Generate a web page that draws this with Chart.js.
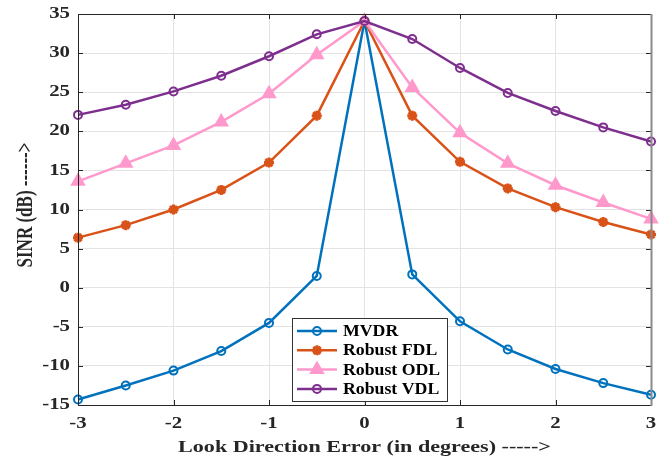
<!DOCTYPE html>
<html>
<head>
<meta charset="utf-8">
<script src="https://cdn.jsdelivr.net/npm/chart.js@4.4.1/dist/chart.umd.min.js"></script>
<style>
  html, body { margin: 0; padding: 0; background: #fff; }
  #wrap { width: 667px; height: 459px; }
</style>
</head>
<body>
<div id="wrap"><canvas id="sinrChart" width="667" height="459"></canvas></div>
<script>
// Look direction error (degrees)
const lookError = [-3, -2.5, -2, -1.5, -1, -0.5, 0, 0.5, 1, 1.5, 2, 2.5, 3];

// SINR values (dB)
const mvdr = [-14.3, -12.5, -10.6, -8.1, -4.5, 1.5, 34.1, 1.7, -4.3, -7.9, -10.4, -12.2, -13.7];
const robustFdl = [6.4, 8.0, 10.0, 12.5, 16.0, 22.0, 34.1, 22.0, 16.1, 12.7, 10.3, 8.4, 6.8];
const robustOdl = [13.6, 15.9, 18.2, 21.2, 24.8, 29.8, 34.1, 25.6, 19.8, 15.9, 13.1, 10.9, 8.8];
const robustVdl = [22.1, 23.4, 25.1, 27.1, 29.6, 32.4, 34.1, 31.8, 28.1, 24.9, 22.6, 20.5, 18.7];

const seriesLabels = ['MVDR', 'Robust FDL', 'Robust ODL', 'Robust VDL'];
const xTicks = [-3, -2, -1, 0, 1, 2, 3];
const yTicks = [-15, -10, -5, 0, 5, 10, 15, 20, 25, 30, 35];
const xTitle = 'Look Direction Error (in degrees) ----->';
const yTitle = 'SINR (dB) ------>';

const FONT = '"Liberation Serif", "Times New Roman", serif';
const STRETCH = 1.3; // the figure's text is wider than normal Times

function wideText(ctx, text, x, y, align, sx) {
    ctx.save();
    ctx.translate(x, y);
    ctx.scale(sx, 1);
    ctx.textAlign = align;
    ctx.fillText(text, 0, 0);
    ctx.restore();
}

// Box, inward ticks, labels and the legend inside the plot
const matlabAxes = {
    id: 'matlabAxes',
    afterDatasetsDraw(chart) {
        const ctx = chart.ctx;
        const a = chart.chartArea;
        const xs = chart.scales.x, ys = chart.scales.y;
        ctx.save();
        // inward ticks
        ctx.strokeStyle = '#262626';
        ctx.lineWidth = 1;
        xTicks.forEach(v => {
            const px = Math.round(xs.getPixelForValue(v)) + 0.5;
            ctx.beginPath();
            ctx.moveTo(px, a.bottom); ctx.lineTo(px, a.bottom - 5);
            ctx.moveTo(px, a.top); ctx.lineTo(px, a.top + 5);
            ctx.stroke();
        });
        yTicks.forEach(v => {
            const py = Math.round(ys.getPixelForValue(v)) + 0.5;
            ctx.beginPath();
            ctx.moveTo(a.left, py); ctx.lineTo(a.left + 5, py);
            ctx.moveTo(a.right, py); ctx.lineTo(a.right - 5, py);
            ctx.stroke();
        });
        // box
        ctx.beginPath();
        ctx.moveTo(a.left + 0.5, a.top + 0.5);
        ctx.lineTo(a.right + 0.5, a.top + 0.5);
        ctx.moveTo(a.left + 0.5, a.top);
        ctx.lineTo(a.left + 0.5, a.bottom + 0.5);
        ctx.lineTo(a.right + 0.5, a.bottom + 0.5);
        ctx.stroke();
        ctx.strokeStyle = '#8a8a8a';
        ctx.lineWidth = 2;
        ctx.beginPath();
        ctx.moveTo(a.right + 0.5, a.top);
        ctx.lineTo(a.right + 0.5, a.bottom + 1);
        ctx.stroke();

        // tick labels
        ctx.fillStyle = '#262626';
        ctx.font = 'bold 16px ' + FONT;
        ctx.textBaseline = 'middle';
        xTicks.forEach(v => {
            wideText(ctx, String(v), xs.getPixelForValue(v), a.bottom + 19, 'center', STRETCH);
        });
        yTicks.forEach(v => {
            wideText(ctx, String(v), a.left - 8, ys.getPixelForValue(v), 'right', STRETCH);
        });

        // axis titles
        ctx.font = 'bold 17px ' + FONT;
        ctx.textBaseline = 'alphabetic';
        wideText(ctx, xTitle, (a.left + a.right) / 2, 452, 'center', STRETCH);
        ctx.save();
        ctx.translate(32, 205);
        ctx.rotate(-Math.PI / 2);
        ctx.scale(1, STRETCH);
        ctx.textAlign = 'center';
        ctx.fillText(yTitle, 0, 0);
        ctx.restore();

        // legend box
        const lx = 292, ly = 318, lw = 155, lh = 83;
        ctx.fillStyle = '#ffffff';
        ctx.fillRect(lx, ly, lw, lh);
        ctx.strokeStyle = '#333333';
        ctx.lineWidth = 1;
        ctx.strokeRect(lx + 0.5, ly + 0.5, lw, lh);
        ctx.font = 'bold 16px ' + FONT;
        ctx.textBaseline = 'middle';
        chart.data.datasets.forEach((ds, i) => {
            const cy = ly + 13 + i * 19.3;
            ctx.strokeStyle = ds.borderColor;
            ctx.lineWidth = 2.5;
            ctx.beginPath();
            ctx.moveTo(lx + 5, cy);
            ctx.lineTo(lx + 45, cy);
            ctx.stroke();
            ctx.fillStyle = ds.pointBackgroundColor;
            ctx.lineWidth = ds.pointBorderWidth;
            Chart.helpers.drawPoint(ctx, {
                pointStyle: ds.pointStyle,
                radius: ds.pointRadius,
                rotation: 0,
                borderWidth: ds.pointBorderWidth
            }, lx + 25, cy);
            ctx.fillStyle = '#000000';
            wideText(ctx, ds.label, lx + 51, cy + 1, 'left', 1.11);
        });
        ctx.restore();
    }
};

function drawSinrChart() {
    const ctx = document.getElementById('sinrChart').getContext('2d');

    const colors = ['#0072BD', '#D95319', '#FF99CC', '#7E2F8E'];
    const styles = [
        { pointStyle: 'circle', radius: 4, bw: 2, fill: 'rgba(255,255,255,0)' },
        { pointStyle: 'star', radius: 5, bw: 3, fill: '#D95319' },
        { pointStyle: 'triangle', radius: 7, bw: 2, fill: '#FF99CC' },
        { pointStyle: 'circle', radius: 4, bw: 2, fill: 'rgba(255,255,255,0)' }
    ];
    const values = [mvdr, robustFdl, robustOdl, robustVdl];

    const datasets = seriesLabels.map((label, i) => ({
        label: label,
        data: values[i].map((y, j) => ({ x: lookError[j], y: y })),
        borderColor: colors[i],
        backgroundColor: styles[i].fill,
        borderWidth: 2.5,
        pointStyle: styles[i].pointStyle,
        pointRadius: styles[i].radius,
        pointBorderWidth: styles[i].bw,
        pointBackgroundColor: styles[i].fill,
        pointBorderColor: colors[i],
        tension: 0,
        clip: false,
        order: 4 - i
    }));

    new Chart(ctx, {
        type: 'line',
        data: { datasets },
        plugins: [matlabAxes],
        options: {
            responsive: false,
            animation: false,
            layout: { padding: { top: 14, right: 16, left: 0, bottom: 0 } },
            scales: {
                x: {
                    type: 'linear',
                    min: -3,
                    max: 3,
                    afterFit: s => { s.height = 54; },
                    afterBuildTicks: s => { s.ticks = xTicks.map(v => ({ value: v })); },
                    grid: { color: '#e3e3e3', drawTicks: false },
                    border: { display: false },
                    ticks: { display: false }
                },
                y: {
                    min: -15,
                    max: 35,
                    afterFit: s => { s.width = 78; },
                    afterBuildTicks: s => { s.ticks = yTicks.map(v => ({ value: v })); },
                    grid: { color: '#e3e3e3', drawTicks: false },
                    border: { display: false },
                    ticks: { display: false }
                }
            },
            plugins: {
                legend: { display: false },
                tooltip: { enabled: false }
            }
        }
    });
}

drawSinrChart();
</script>
</body>
</html>
